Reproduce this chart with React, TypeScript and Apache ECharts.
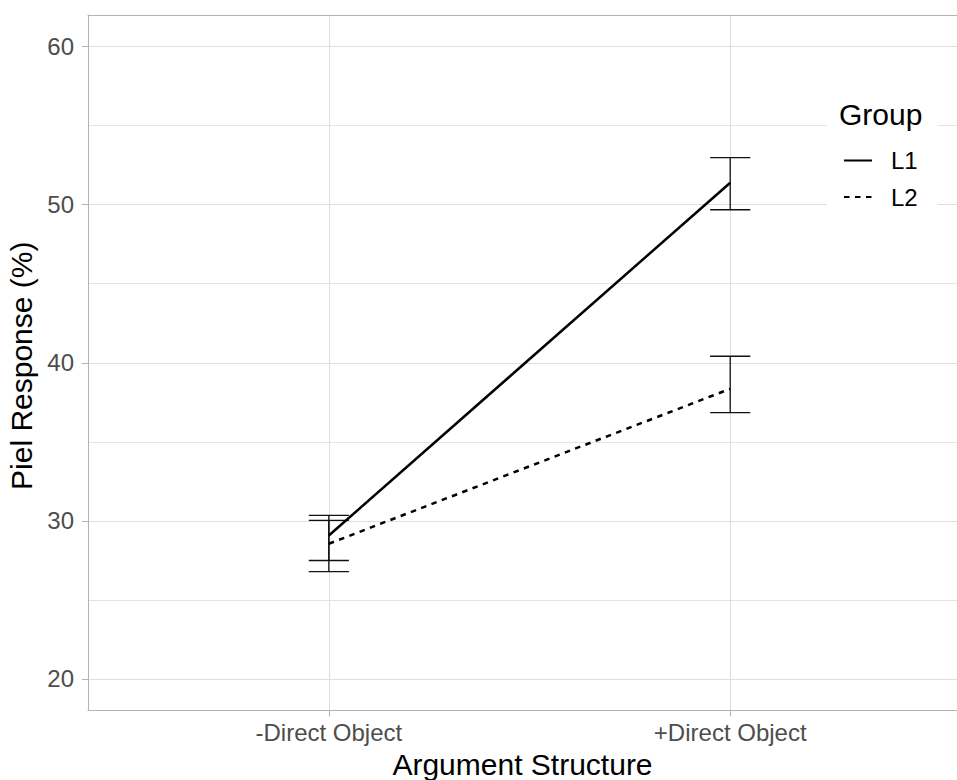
import React, { useEffect, useRef } from "react";
import * as echarts from "echarts";

const categories = ["-Direct Object", "+Direct Object"];
const categoryPositions = [1, 2];
const groups = ["L1", "L2"];
const l1Mean = [29.07, 51.39];
const l1Lower = [27.49, 49.68];
const l1Upper = [30.34, 52.98];
const l2Mean = [28.55, 38.35];
const l2Lower = [26.78, 36.85];
const l2Upper = [30.03, 40.41];
const yMajorTicks = [20, 30, 40, 50, 60];
const yMinorTicks = [25, 35, 45, 55];

const FONT = "'Liberation Sans', Arial, sans-serif";
const X_MIN = 0.4;
const X_MAX = 2.565;
const Y_MIN = 18;
const Y_MAX = 62;
const BORDER = "#B3B3B3";

function errorBarSeries(name: string, lower: number[], upper: number[]) {
  return {
    name,
    type: "custom",
    silent: true,
    data: categoryPositions.map((x, i) => [x, lower[i], upper[i]]),
    encode: { x: 0, y: [1, 2] },
    z: 3,
    renderItem: (params: any, api: any) => {
      const x = api.value(0);
      const lo = api.coord([x, api.value(1)]);
      const hi = api.coord([x, api.value(2)]);
      const half = api.size([0.1, 0])[0] / 2;
      const style = { stroke: "#111", lineWidth: 1.3 };
      return {
        type: "group",
        children: [
          { type: "line", shape: { x1: lo[0], y1: lo[1], x2: hi[0], y2: hi[1] }, style },
          { type: "line", shape: { x1: lo[0] - half, y1: lo[1], x2: lo[0] + half, y2: lo[1] }, style },
          { type: "line", shape: { x1: hi[0] - half, y1: hi[1], x2: hi[0] + half, y2: hi[1] }, style },
        ],
      };
    },
  };
}

export default function App() {
  const ref = useRef<HTMLDivElement>(null);
  useEffect(() => {
    document.body.style.margin = "0";
    document.documentElement.style.overflow = "hidden";
    document.body.style.overflow = "hidden";
    if (!ref.current) return;
    const chart = echarts.init(ref.current, null, { renderer: "svg" });
    chart.setOption({
      animation: false,
      backgroundColor: "#fff",
      grid: { left: 88, right: 0, top: 15, bottom: 69.5, show: false, containLabel: false, outerBoundsMode: "none" },
      title: {
        text: "Group",
        left: 839,
        top: 99,
        padding: 0,
        z: 10,
        textStyle: { fontFamily: FONT, fontSize: 30, fontWeight: "normal", color: "#000" },
      },
      legend: {
        data: groups,
        orient: "vertical",
        left: 827,
        top: 95,
        padding: [53.5, 20, 8, 16],
        backgroundColor: "#fff",
        itemWidth: 28,
        itemHeight: 24,
        itemGap: 12.5,
        selectedMode: false,
        itemStyle: { opacity: 0 },
        textStyle: { fontFamily: FONT, fontSize: 24, color: "#000", padding: [0, 0, 0, 14] },
      },
      xAxis: [
        {
          type: "value",
          min: X_MIN,
          max: X_MAX,
          name: "Argument Structure",
          nameLocation: "middle",
          nameGap: 39,
          nameTextStyle: { fontFamily: FONT, fontSize: 30, color: "#000" },
          axisLine: { show: true, onZero: false, lineStyle: { color: BORDER, width: 1 } },
          axisTick: { show: true, length: 6, lineStyle: { color: BORDER }, customValues: categoryPositions },
          axisLabel: {
            customValues: categoryPositions,
            margin: 10,
            fontFamily: FONT,
            fontSize: 24,
            color: "#4D4D4D",
            formatter: (v: number) => {
              const i = categoryPositions.indexOf(Math.round(v));
              return i >= 0 && Math.abs(v - Math.round(v)) < 1e-6 ? categories[i] : "";
            },
          },
          splitLine: { show: true, lineStyle: { color: "#DEDEDE", width: 1 } },
        },
        {
          type: "value",
          position: "top",
          min: X_MIN,
          max: X_MAX,
          axisLine: { show: true, onZero: false, lineStyle: { color: BORDER, width: 1 } },
          axisTick: { show: false },
          axisLabel: { show: false },
          splitLine: { show: false },
        },
      ],
      yAxis: [
        {
          type: "value",
          min: Y_MIN,
          max: Y_MAX,
          name: "Piel Response (%)",
          nameLocation: "middle",
          nameGap: 50,
          nameTextStyle: { fontFamily: FONT, fontSize: 30, color: "#000", padding: [0, 6, 0, 0] },
          axisLine: { show: true, onZero: false, lineStyle: { color: BORDER, width: 1 } },
          axisTick: { show: true, length: 6, lineStyle: { color: BORDER }, customValues: yMajorTicks },
          axisLabel: { customValues: yMajorTicks, margin: 14, fontFamily: FONT, fontSize: 24, color: "#4D4D4D" },
          splitLine: { show: true, lineStyle: { color: "#DEDEDE", width: 1 } },
        },
        {
          type: "value",
          min: Y_MIN,
          max: Y_MAX,
          position: "left",
          axisLine: { show: false },
          axisTick: { show: false, customValues: yMinorTicks },
          axisLabel: { show: false, customValues: yMinorTicks },
          splitLine: { show: true, lineStyle: { color: "#E4E4E4", width: 1 } },
        },
      ],
      series: [
        errorBarSeries("L1 error", l1Lower, l1Upper),
        errorBarSeries("L2 error", l2Lower, l2Upper),
        {
          name: "L1",
          type: "line",
          symbol: "none",
          z: 4,
          data: categoryPositions.map((x, i) => [x, l1Mean[i]]),
          lineStyle: { color: "#000", width: 2.5, type: "solid" },
          itemStyle: { color: "#000" },
        },
        {
          name: "L2",
          type: "line",
          symbol: "none",
          z: 4,
          data: categoryPositions.map((x, i) => [x, l2Mean[i]]),
          lineStyle: { color: "#000", width: 2.5, type: [5.5, 5.5] },
          itemStyle: { color: "#000" },
        },
      ],
    });
    return () => chart.dispose();
  }, []);
  return <div ref={ref} style={{ width: 957, height: 780, overflow: "hidden" }} />;
}
